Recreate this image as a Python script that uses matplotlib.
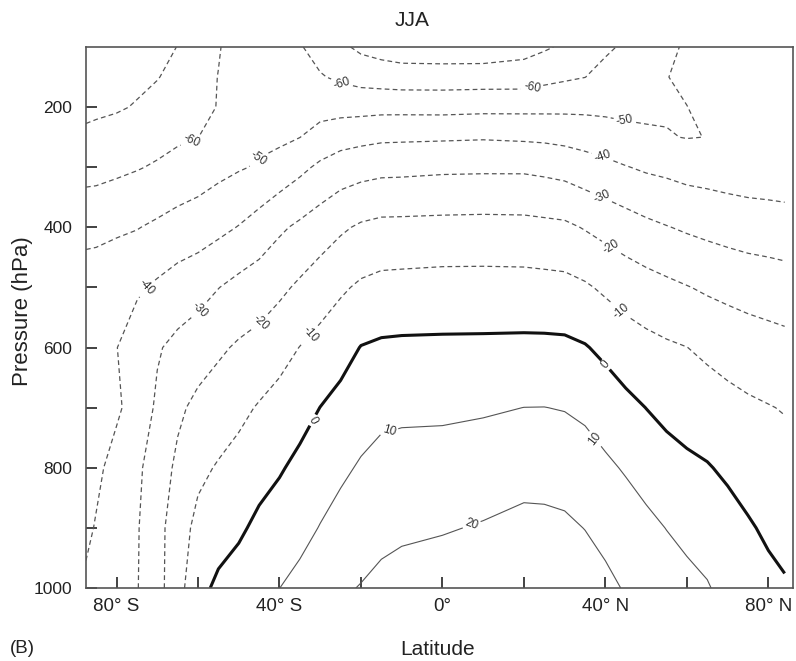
import numpy as np
import matplotlib
matplotlib.use('Agg')
import matplotlib.pyplot as plt

plt.rcParams['font.family'] = ['Liberation Sans', 'DejaVu Sans']
plt.rcParams['lines.dashed_pattern'] = [3.8, 2.6]

# zonal mean temperature (deg C), JJA
lats = [-87.5, -85, -80, -75, -70, -65, -60, -55, -50, -45, -40, -35, -30, -25, -20, -15,
        -10, 0, 10, 20, 25, 30, 35, 40, 45, 50, 55, 60, 65, 70, 75, 80, 84]
plevs = [100, 150, 200, 250, 300, 400, 500, 600, 700, 800, 900, 1000]

t100 = [-77.0, -76.2, -74.7, -73.1, -71.5, -69.9, -64.6, -60.6, -56.0, -55.0, -56.5, -59.3, -63.5, -68.1, -72.0, -74.0,
        -75.5, -76.0, -76.0, -73.5, -71.2, -68.5, -64.9, -61.4, -58.7, -54.9, -51.7, -49.0, -47.0, -46.0, -45.5, -45.0, -45.0]
t150 = [-74.5, -73.9, -72.7, -71.5, -70.4, -67.3, -63.6, -59.8, -55.0, -53.0, -53.0, -55.5, -59.3, -61.6, -63.6, -64.6,
        -65.3, -65.3, -65.1, -65.0, -62.8, -61.3, -60.1, -57.2, -55.2, -52.7, -50.2, -48.5, -47.0, -46.0, -45.5, -45.0, -45.0]
t200 = [-71.8, -71.4, -70.75, -69.5, -66.8, -64.5, -62.1, -59.7, -56.5, -54.0, -53.0, -52.5, -53.4, -53.4, -53.3, -52.9,
        -52.9, -53.1, -52.6, -52.5, -52.4, -52.2, -52.1, -52.3, -52.5, -52.2, -51.0, -50.1, -48.0, -47.0, -46.5, -46.0, -46.0]
t250 = [-68.5, -68.0, -67.0, -65.0, -63.1, -61.3, -60.1, -57.0, -53.6, -52.0, -52.0, -50.1, -46.4, -43.9, -42.7, -41.7,
        -41.5, -41.2, -40.8, -41.4, -41.8, -42.7, -43.9, -45.2, -47.0, -48.3, -49.5, -50.3, -49.9, -47.5, -47.0, -46.5, -46.5]
t300 = [-64.6, -64.0, -62.0, -60.6, -59.0, -57.1, -55.2, -52.7, -50.8, -49.1, -46.1, -42.3, -38.2, -35.2, -33.7, -32.7,
        -32.5, -31.8, -31.6, -31.6, -32.4, -33.5, -35.6, -37.6, -39.6, -41.3, -42.3, -43.7, -44.2, -44.9, -45.4, -45.7, -46.0]
t400 = [-50.7, -51.0, -51.4, -50.4, -48.4, -46.2, -44.6, -42.4, -39.6, -35.8, -31.5, -28.2, -24.9, -21.4, -18.7, -17.4,
        -17.3, -17.0, -16.8, -17.0, -17.6, -18.2, -20.6, -23.1, -25.5, -27.8, -29.6, -31.2, -32.5, -33.7, -34.7, -35.2, -35.7]
t500 = [-48.8, -48.0, -43.5, -41.3, -38.5, -35.7, -33.7, -30.2, -27.1, -24.9, -22.0, -18.4, -14.7, -11.4, -8.5, -7.1,
        -6.8, -6.3, -6.3, -6.4, -6.7, -7.1, -8.8, -11.6, -14.1, -16.1, -17.9, -19.6, -21.3, -22.6, -23.8, -24.7, -25.5]
t600 = [-47.5, -46.5, -40.2, -35.4, -30.9, -27.5, -24.6, -21.5, -18.8, -16.8, -13.4, -9.8, -6.8, -3.5, 0.3, 1.4,
        1.7, 1.8, 1.9, 2.1, 2.1, 1.9, 0.6, -2.1, -5.2, -7.2, -8.7, -9.9, -11.9, -13.7, -15.1, -16.2, -17.0]
t700 = [-46.2, -45.0, -41.5, -36.0, -28.5, -21.8, -17.6, -15.1, -12.3, -9.2, -6.6, -3.5, 0.1, 2.9, 5.7, 7.7,
        8.2, 8.3, 9.0, 10.05, 10.1, 9.6, 8.2, 5.3, 2.5, -0.1, -2.4, -4.0, -5.3, -7.0, -8.5, -9.6, -10.5]
t800 = [-44.5, -42.0, -36.6, -31.9, -25.1, -18.1, -12.1, -9.2, -6.7, -3.5, -0.9, 2.3, 5.2, 8.2, 11.0, 13.0,
        13.6, 14.0, 14.9, 16.4, 16.3, 15.7, 14.2, 11.7, 9.1, 6.2, 3.7, 1.9, 0.6, -1.5, -3.8, -5.6, -6.5]
t900 = [-42.0, -39.3, -35.1, -30.8, -23.5, -14.3, -7.5, -4.3, -1.5, 2.1, 4.6, 7.0, 10.4, 13.5, 15.7, 17.6,
        18.5, 19.3, 20.7, 22.6, 22.4, 21.7, 19.8, 17.1, 15.0, 12.4, 9.8, 8.2, 5.7, 3.5, 1.0, -1.5, -2.8]
t1000 = [-38.3, -36.0, -33.6, -30.5, -23.4, -13.6, -3.0, 2.0, 4.4, 7.2, 9.95, 12.8, 15.6, 18.8, 20.4, 22.2,
         23.4, 25.0, 26.5, 28.0, 27.6, 27.0, 25.0, 22.4, 19.2, 16.5, 15.0, 12.0, 10.7, 7.0, 4.5, 2.5, 0.9]

temp = np.array([t100, t150, t200, t250, t300, t400, t500, t600, t700, t800, t900, t1000])

cold_levels = [-70]
neg_levels = [-60, -50, -40, -30, -20, -10]
pos_levels = [10, 20]

# where the contour labels sit (lat, hPa)
neg_label_at = [(-61.4, 260), (-24.8, 163), (22, 168), (-44.5, 291), (44.7, 225),
                (-72.7, 500), (39.3, 283), (-59.5, 538), (39.3, 346), (-45, 556),
                (41.8, 430), (-32.7, 576), (44.2, 538)]
zero_label_at = [(-32, 720), (40.5, 626)]
pos_label_at = [(-13.5, 730), (38, 749), (7.4, 899)]

fig = plt.figure(figsize=(7.96, 6.61), dpi=100)
ax = fig.add_axes([0.108, 0.1104, 0.888, 0.8185])

fmt = lambda v: f'{v:.0f}'

ax.contour(lats, plevs, temp, levels=cold_levels, colors='#555555',
           linewidths=0.9, linestyles='dashed')
cs_neg = ax.contour(lats, plevs, temp, levels=neg_levels, colors='#555555',
                    linewidths=0.9, linestyles='dashed')
cs_zero = ax.contour(lats, plevs, temp, levels=[0], colors='#111111', linewidths=2.2)
cs_pos = ax.contour(lats, plevs, temp, levels=pos_levels, colors='#555555', linewidths=0.8)

for cs, where in [(cs_neg, neg_label_at), (cs_zero, zero_label_at), (cs_pos, pos_label_at)]:
    txts = ax.clabel(cs, fmt=fmt, fontsize=8.5, inline_spacing=3, manual=where)
    for t in txts:
        t.set_color('#333333')

ax.set_xlim(-87.5, 86)
ax.set_ylim(1000, 100)

xt = [-80, -60, -40, -20, 0, 20, 40, 60, 80]
xt_labels = ['80° S', '', '40° S', '', '0°', '', '40° N', '', '80° N']
yt = [200, 300, 400, 500, 600, 700, 800, 900, 1000]
yt_labels = ['200', '', '400', '', '600', '', '800', '', '1000']
ax.set_xticks(xt)
ax.set_xticklabels(xt_labels)
ax.set_yticks(yt)
ax.set_yticklabels(yt_labels)
ax.tick_params(axis='both', direction='in', length=8, width=1.2, colors='#222222',
               labelcolor='#222222')
ax.tick_params(axis='x', pad=7, labelsize=13.5)
ax.tick_params(axis='y', pad=10, labelsize=12.5)
for s in ax.spines.values():
    s.set_color('#555555')
    s.set_linewidth(1.2)

fig.text(412 / 796, 1 - 26 / 661, 'JJA', ha='center', va='baseline', fontsize=15, color='#222222')
fig.text(438 / 796, 1 - 655 / 661, 'Latitude', ha='center', va='baseline', fontsize=15, color='#222222')
fig.text(10 / 796, 1 - 653 / 661, '(B)', ha='left', va='baseline', fontsize=13.5, color='#222222')
fig.text(28 / 796, 1 - 311 / 661, 'Pressure (hPa)', ha='center', va='baseline',
         rotation=90, rotation_mode='anchor', fontsize=16, color='#222222')

fig.savefig('out.png', dpi=100)
